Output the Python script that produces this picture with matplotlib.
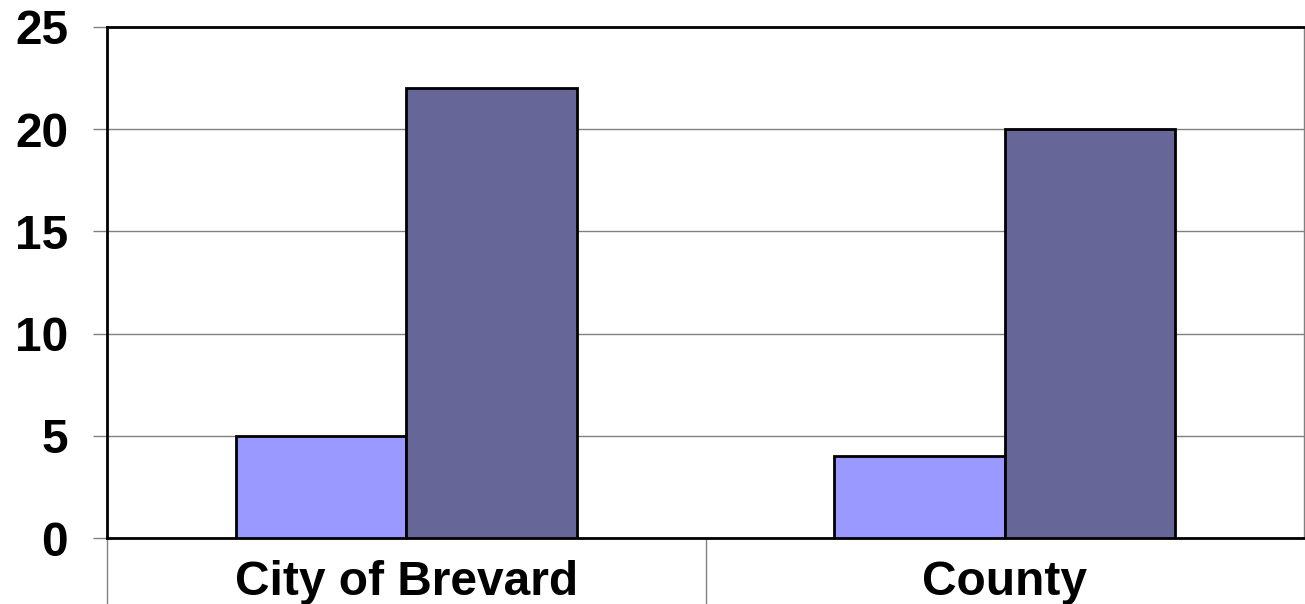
import matplotlib.pyplot as plt
import numpy as np

# Chart data
categories = ['City of Brevard', 'County']
series_a = [5, 4]
series_b = [22, 20]
yticks = [0, 5, 10, 15, 20, 25]

color_a = '#9999FF'
color_b = '#666699'

plt.rcParams['font.family'] = ['Liberation Sans', 'DejaVu Sans']

fig = plt.figure(figsize=(13.05, 6.04), dpi=100)
ax = fig.add_axes([107 / 1305, 1 - 538 / 604, 1197 / 1305, 511 / 604])

x = np.arange(len(categories))
w = 0.285
ax.bar(x - w / 2, series_a, w, color=color_a, edgecolor='black', linewidth=2, zorder=3)
ax.bar(x + w / 2, series_b, w, color=color_b, edgecolor='black', linewidth=2, zorder=3)

ax.set_xlim(-0.5, len(categories) - 0.5)
ax.set_ylim(0, 25)
ax.set_yticks(yticks)
ax.set_yticklabels([str(t) for t in yticks], fontsize=34.5, fontweight='bold')
ax.tick_params(axis='y', length=10, width=1, color='#808080', pad=18)

ax.set_xticks(x)
ax.set_xticklabels(categories, fontsize=34.5, fontweight='bold')
ax.tick_params(axis='x', which='major', length=0, pad=16)
ax.set_xticks([-0.5, 0.5], minor=True)
ax.tick_params(axis='x', which='minor', length=48, width=1, color='#808080')

ax.yaxis.grid(True, color='#808080', linewidth=1, zorder=0)
ax.set_axisbelow(True)

for s in ['left', 'top', 'bottom']:
    ax.spines[s].set_color('black')
    ax.spines[s].set_linewidth(2)
ax.spines['right'].set_color('#808080')
ax.spines['right'].set_linewidth(1)

fig.savefig('out.png', dpi=100)
